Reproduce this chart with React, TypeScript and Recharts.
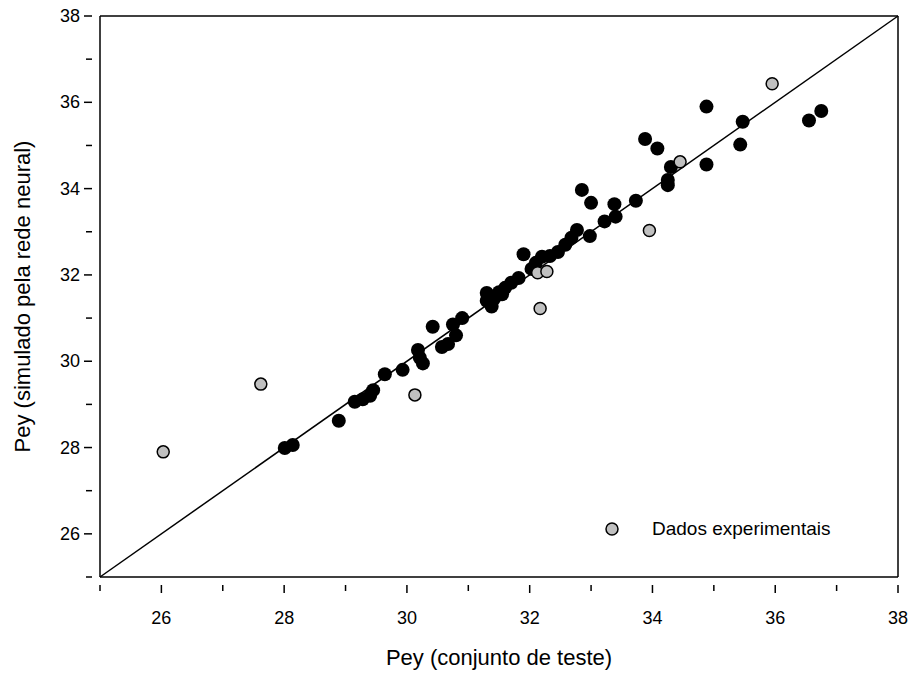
import React from "react";
import {
  ScatterChart,
  Scatter,
  XAxis,
  YAxis,
  ReferenceLine,
} from "recharts";

// Rede neural: valores simulados (y) contra conjunto de teste (x)
const testeX = [
  28.01, 28.14, 28.89, 29.15, 29.28, 29.4, 29.45, 29.64, 29.93, 30.18, 30.21,
  30.26, 30.42, 30.57, 30.67, 30.75, 30.8, 30.9, 31.3, 31.3, 31.38, 31.5, 31.6,
  31.7, 31.82, 31.9, 32.03, 32.1, 32.2, 32.33, 32.46, 32.58, 32.68, 32.77, 32.98,
  32.85, 33.0, 33.22, 33.38, 33.4, 33.73, 33.88, 34.08, 34.3, 34.25, 34.25,
  34.88, 34.88, 35.47, 35.43, 36.55, 36.75, 31.42, 31.55,
];
const redeY = [
  27.99, 28.06, 28.62, 29.06, 29.12, 29.2, 29.33, 29.7, 29.8, 30.26, 30.08,
  29.95, 30.8, 30.33, 30.4, 30.85, 30.6, 31.0, 31.58, 31.4, 31.27, 31.6, 31.7,
  31.82, 31.93, 32.48, 32.14, 32.28, 32.42, 32.44, 32.53, 32.7, 32.86, 33.04,
  32.9, 33.97, 33.67, 33.24, 33.64, 33.35, 33.72, 35.15, 34.93, 34.5, 34.2,
  34.08, 35.9, 34.56, 35.55, 35.02, 35.58, 35.8, 31.45, 31.55,
];

// Dados experimentais
const expX = [26.03, 27.62, 30.13, 32.13, 32.28, 32.17, 33.95, 34.45, 35.95];
const expY = [27.9, 29.47, 29.22, 32.05, 32.08, 31.22, 33.03, 34.62, 36.43];

const axisTicks = [25, 26, 27, 28, 29, 30, 31, 32, 33, 34, 35, 36, 37, 38];
const labelTicks = [26, 28, 30, 32, 34, 36, 38];

const rede = testeX.map((x, i) => ({ x, y: redeY[i] }));
const experimentais = expX.map((x, i) => ({ x, y: expY[i] }));

const FONT = "'Liberation Sans', Arial, sans-serif";

const XTick = (props: any) => {
  const { x, y, payload } = props;
  const major = labelTicks.includes(payload.value);
  return (
    <g>
      <line x1={x} y1={y} x2={x} y2={y + (major ? 8 : 6)} stroke="#000" strokeWidth={1.5} />
      {major && (
        <text x={x} y={y + 39} textAnchor="middle" fontSize={18} fontFamily={FONT} fill="#000">
          {payload.value}
        </text>
      )}
    </g>
  );
};

const YTick = (props: any) => {
  const { x, y, payload } = props;
  const major = labelTicks.includes(payload.value);
  return (
    <g>
      <line x1={x} y1={y} x2={x - (major ? 8 : 6)} y2={y} stroke="#000" strokeWidth={1.5} />
      {major && (
        <text x={x - 12} y={y + 6} textAnchor="end" fontSize={18} fontFamily={FONT} fill="#000">
          {payload.value}
        </text>
      )}
    </g>
  );
};

const Dot = (props: any) => <circle cx={props.cx} cy={props.cy} r={7} fill="#000" />;
const GreyDot = (props: any) => (
  <circle cx={props.cx} cy={props.cy} r={6} fill="#c0c0c0" stroke="#000" strokeWidth={1.5} />
);

export default function App() {
  return (
    <div style={{ position: "absolute", left: 0, top: 0, width: 916, height: 673, background: "#fff" }}>
      <ScatterChart width={916} height={673} margin={{ top: 16, right: 18, bottom: 36, left: 40 }}>
        <XAxis
          type="number"
          dataKey="x"
          domain={[25, 38]}
          ticks={axisTicks}
          interval={0}
          tick={<XTick />}
          tickLine={false}
          height={60}
          stroke="#000"
          strokeWidth={1.5}
          allowDataOverflow
          label={(p: any) => {
            const vb = p.viewBox;
            return (
              <text x={vb.x + vb.width / 2} y={vb.y + 88} textAnchor="middle" fontSize={22} fontFamily={FONT} fill="#000">
                Pey (conjunto de teste)
              </text>
            );
          }}
        />
        <YAxis
          type="number"
          dataKey="y"
          domain={[25, 38]}
          ticks={axisTicks}
          interval={0}
          tick={<YTick />}
          tickLine={false}
          width={60}
          stroke="#000"
          strokeWidth={1.5}
          allowDataOverflow
          label={(p: any) => {
            const vb = p.viewBox;
            const cy = vb.y + vb.height / 2;
            return (
              <text x={30} y={cy} transform={`rotate(-90 30 ${cy})`} textAnchor="middle" fontSize={22} fontFamily={FONT} fill="#000">
                Pey (simulado pela rede neural)
              </text>
            );
          }}
        />
        <ReferenceLine y={38} stroke="#000" strokeWidth={1.5} />
        <ReferenceLine x={38} stroke="#000" strokeWidth={1.5} />
        <ReferenceLine
          segment={[{ x: 25, y: 25 }, { x: 38, y: 38 }]}
          stroke="#000"
          strokeWidth={1.5}
        />
        <Scatter data={rede} shape={<Dot />} isAnimationActive={false} />
        <Scatter data={experimentais} shape={<GreyDot />} isAnimationActive={false} />
      </ScatterChart>
      <div
        style={{
          position: "absolute",
          left: 604,
          top: 518,
          display: "flex",
          alignItems: "center",
          fontFamily: FONT,
          fontSize: 19,
          whiteSpace: "nowrap",
        }}
      >
        <svg width={16} height={16}>
          <circle cx={8} cy={8} r={6} fill="#c0c0c0" stroke="#000" strokeWidth={1.5} />
        </svg>
        <span style={{ marginLeft: 32 }}>Dados experimentais</span>
      </div>
    </div>
  );
}
